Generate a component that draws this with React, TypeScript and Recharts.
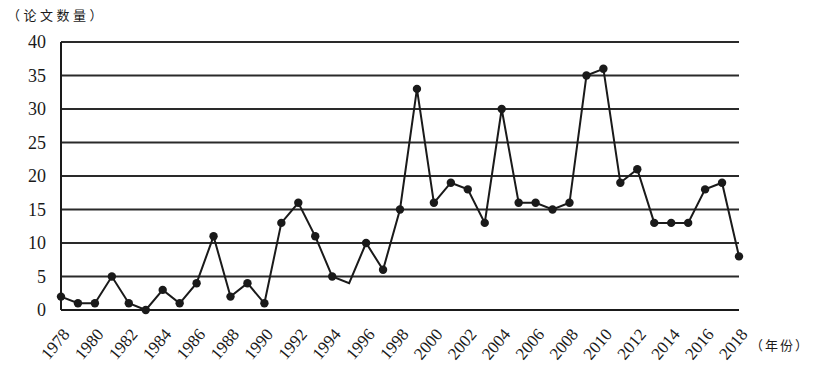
import React from 'react';
import { LineChart, Line, XAxis, YAxis, CartesianGrid } from 'recharts';

const years = [
  1978, 1979, 1980, 1981, 1982, 1983, 1984, 1985, 1986, 1987,
  1988, 1989, 1990, 1991, 1992, 1993, 1994, 1995, 1996, 1997,
  1998, 1999, 2000, 2001, 2002, 2003, 2004, 2005, 2006, 2007,
  2008, 2009, 2010, 2011, 2012, 2013, 2014, 2015, 2016, 2017, 2018,
];
const papers = [
  2, 1, 1, 5, 1, 0, 3, 1, 4, 11,
  2, 4, 1, 13, 16, 11, 5, 4, 10, 6,
  15, 33, 16, 19, 18, 13, 30, 16, 16, 15,
  16, 35, 36, 19, 21, 13, 13, 13, 18, 19, 8,
];
// years drawn without a marker in the original
const noMarker = [1995];
const xTicks = [1978, 1980, 1982, 1984, 1986, 1988, 1990, 1992, 1994, 1996, 1998, 2000, 2002, 2004, 2006, 2008, 2010, 2012, 2014, 2016, 2018];
const yTicks = [0, 5, 10, 15, 20, 25, 30, 35, 40];

const data = years.map((year, i) => ({ year, papers: papers[i] }));

const serif = '"Liberation Serif", "DejaVu Serif", serif';
const cjk = '"Noto Sans CJK SC", sans-serif';

const YearTick = (props: any) => {
  const { x, y, payload } = props;
  return (
    <g transform={`translate(${x + 5},${y})`}>
      <text textAnchor="end" transform="rotate(-50)" dy="0.35em" fontFamily={serif} fontSize={17} fill="#1a1a1a">
        {payload.value}
      </text>
    </g>
  );
};

const Dot = (props: any) => {
  const { cx, cy, payload } = props;
  if (noMarker.includes(payload.year)) return <g key={payload.year} />;
  return <circle key={payload.year} cx={cx} cy={cy} r={4.2} fill="#1a1a1a" />;
};

export default function App() {
  return (
    <div style={{ position: 'absolute', left: 0, top: 0, width: 814, height: 365, background: '#fff' }}>
      <div style={{ position: 'absolute', left: 7, top: 5, fontFamily: cjk, fontSize: 13, letterSpacing: 3.5, color: '#1a1a1a', whiteSpace: 'nowrap' }}>
        （论文数量）
      </div>
      <div style={{ position: 'absolute', left: 750, top: 335, fontFamily: cjk, fontSize: 13, letterSpacing: 2, color: '#1a1a1a', whiteSpace: 'nowrap' }}>
        （年份）
      </div>
      <LineChart width={814} height={365} data={data} margin={{ top: 42, right: 75, bottom: 15, left: 0 }}>
        <CartesianGrid vertical={false} horizontalValues={yTicks} stroke="#2a2a2a" strokeWidth={1.8} />
        <XAxis
          dataKey="year"
          type="number"
          domain={[1978, 2018]}
          ticks={xTicks}
          interval={0}
          height={40}
          tick={<YearTick />}
          tickLine={false}
          tickSize={0}
          tickMargin={21}
          axisLine={{ stroke: '#1a1a1a', strokeWidth: 2 }}
        />
        <YAxis
          domain={[0, 40]}
          ticks={yTicks}
          width={61}
          tickLine={false}
          tickSize={0}
          tickMargin={15}
          axisLine={{ stroke: '#1a1a1a', strokeWidth: 2 }}
          tick={{ fontFamily: serif, fontSize: 18, fill: '#1a1a1a' }}
        />
        <Line
          type="linear"
          dataKey="papers"
          stroke="#1a1a1a"
          strokeWidth={2}
          dot={<Dot />}
          isAnimationActive={false}
        />
      </LineChart>
    </div>
  );
}
